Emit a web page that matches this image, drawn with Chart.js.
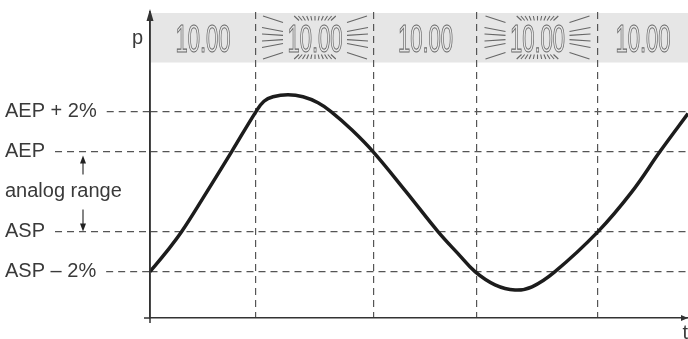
<html>
<head>
    <title>Display flashing outside the analog range</title>
    <script src="https://cdn.jsdelivr.net/npm/chart.js"></script>
    <style>
        body { margin: 0; background: #fff; }
        canvas { display: block; }
    </style>
</head>
<body>
<canvas id="p_chart" width="688" height="339"></canvas>

<script>
    // pressure curve over time (arbitrary units, 1 unit = 2% step)
    const curve_t = [0, 16, 31.7, 57, 81.7, 106, 114, 123, 138, 153, 168, 181, 202, 223, 256, 288, 308, 325, 345, 365, 382, 405, 448, 482, 510, 538];
    const curve_p = [0, 0.48, 1.0, 2.0, 3.0, 4.0, 4.26, 4.37, 4.42, 4.37, 4.22, 4.0, 3.54, 3.0, 2.0, 1.0, 0.45, 0, -0.33, -0.46, -0.38, 0, 1.0, 2.0, 3.0, 3.95];

    // y levels and their labels
    const level_values = [0, 1, 2, 3, 4];
    const level_labels = ["ASP – 2%", "ASP", "analog range", "AEP", "AEP + 2%"];

    // times where the display switches between steady and flashing
    const switch_t = [106, 224, 327, 448];
    const display_states = ["steady", "flash", "steady", "flash", "steady"];
    const display_text = "10.00";

    const t_min = 0, t_max = 538;
    const p_min = -1.16, p_max = 6.49;

    const label_font = "20px 'Liberation Sans', Arial, sans-serif";
    const line_gray = "#555";

    function draw_rays(ctx, cx, cy) {
        ctx.beginPath();
        // fan above and below
        for (let dx = -16; dx <= 16.1; dx += 3.2) {
            ctx.moveTo(cx + dx, cy - 17); ctx.lineTo(cx + dx * 1.3, cy - 21.5);
            ctx.moveTo(cx + dx, cy + 17); ctx.lineTo(cx + dx * 1.3, cy + 21.5);
        }
        // left and right sides
        [-10, -3.5, 3.5, 10].forEach(dy => {
            ctx.moveTo(cx - 32, cy + dy * 0.6); ctx.lineTo(cx - 53, cy + dy);
            ctx.moveTo(cx + 32, cy + dy * 0.6); ctx.lineTo(cx + 53, cy + dy);
        });
        // corners
        [[-1, -1], [1, -1], [-1, 1], [1, 1]].forEach(([sx, sy]) => {
            ctx.moveTo(cx + sx * 32, cy + sy * 15); ctx.lineTo(cx + sx * 52, cy + sy * 21.5);
        });
        ctx.stroke();
    }

    const overlay = {
        id: "overlay",
        beforeDraw(chart) {
            const ctx = chart.ctx;
            const area = chart.chartArea;
            ctx.save();
            ctx.fillStyle = "#e6e6e6";
            ctx.fillRect(area.left, 13, area.right - area.left, 49.5);
            ctx.restore();
        },
        afterDraw(chart) {
            const ctx = chart.ctx;
            const area = chart.chartArea;
            const xs = chart.scales.x;
            const ys = chart.scales.y;
            ctx.save();

            // dashed lines from the labels up to the axis
            ctx.font = label_font;
            ctx.strokeStyle = line_gray;
            ctx.lineWidth = 1.2;
            ctx.setLineDash([7, 5]);
            level_values.forEach((v, i) => {
                if (v === 2) return;
                const y = ys.getPixelForValue(v);
                const x0 = ys.left + ctx.measureText(level_labels[i]).width + 10;
                ctx.beginPath();
                ctx.moveTo(x0, y);
                ctx.lineTo(area.left, y);
                ctx.stroke();
            });
            ctx.setLineDash([]);

            // arrows for the analog range
            const ax = 83;
            const y_top = ys.getPixelForValue(3) + 4;
            const y_bot = ys.getPixelForValue(1);
            ctx.strokeStyle = "#222";
            ctx.fillStyle = "#222";
            ctx.lineWidth = 1.1;
            ctx.beginPath();
            ctx.moveTo(ax, y_top + 19); ctx.lineTo(ax, y_top + 6);
            ctx.moveTo(ax, y_bot - 22); ctx.lineTo(ax, y_bot - 6);
            ctx.stroke();
            ctx.beginPath();
            ctx.moveTo(ax, y_top); ctx.lineTo(ax - 3, y_top + 8); ctx.lineTo(ax + 3, y_top + 8); ctx.closePath();
            ctx.moveTo(ax, y_bot); ctx.lineTo(ax - 3, y_bot - 8); ctx.lineTo(ax + 3, y_bot - 8); ctx.closePath();
            ctx.fill();

            // axis arrow heads and small overhangs
            ctx.strokeStyle = "#333";
            ctx.fillStyle = "#333";
            ctx.lineWidth = 1.5;
            ctx.beginPath();
            ctx.moveTo(area.left, area.top); ctx.lineTo(area.left, area.bottom + 5);
            ctx.moveTo(area.left - 6, area.bottom); ctx.lineTo(area.left, area.bottom);
            ctx.stroke();
            ctx.beginPath();
            ctx.moveTo(area.left, area.top - 3); ctx.lineTo(area.left - 3.5, area.top + 9); ctx.lineTo(area.left + 3.5, area.top + 9); ctx.closePath();
            ctx.moveTo(area.right, area.bottom); ctx.lineTo(area.right - 7, area.bottom - 3); ctx.lineTo(area.right - 7, area.bottom + 3); ctx.closePath();
            ctx.fill();

            // axis names
            ctx.fillStyle = "#3a3a3a";
            ctx.font = label_font;
            ctx.textAlign = "right";
            ctx.textBaseline = "alphabetic";
            ctx.fillText("p", area.left - 7, 44);
            ctx.fillText("t", area.right, 339);

            // displays
            ctx.strokeStyle = "#666";
            display_states.forEach((state, i) => {
                const x0 = i === 0 ? area.left : xs.getPixelForValue(switch_t[i - 1]);
                const x1 = i === display_states.length - 1 ? area.right : xs.getPixelForValue(switch_t[i]);
                const cx = (x0 + x1) / 2;
                ctx.save();
                ctx.translate(cx, 52);
                ctx.scale(0.565, 1);
                ctx.font = "39px 'Liberation Sans', Arial, sans-serif";
                ctx.textAlign = "center";
                ctx.lineWidth = 1.1;
                ctx.strokeText(display_text, 0, 0);
                ctx.restore();
                if (state === "flash") {
                    ctx.lineWidth = 1.1;
                    draw_rays(ctx, cx, 37.5);
                }
            });
            ctx.restore();
        }
    };

    const ctx = document.getElementById("p_chart").getContext("2d");
    const p_chart = new Chart(ctx, {
        type: "line",
        data: {
            datasets: [{
                data: curve_t.map((t, i) => ({ x: t, y: curve_p[i] })),
                borderColor: "#1c1c1c",
                borderWidth: 3.5,
                pointRadius: 0,
                tension: 0.4,
                fill: false
            }]
        },
        options: {
            responsive: false,
            animation: false,
            layout: { padding: { left: 5, top: 12, right: 0, bottom: 0 } },
            plugins: { legend: { display: false }, tooltip: { enabled: false } },
            scales: {
                x: {
                    type: "linear",
                    min: t_min,
                    max: t_max,
                    afterBuildTicks: s => { s.ticks = switch_t.map(v => ({ value: v })); },
                    afterFit: s => { s.height = 21; },
                    ticks: { display: false },
                    grid: { color: line_gray, lineWidth: 1.2, drawTicks: false },
                    border: { display: true, color: "#333", width: 1.5, dash: [7, 5] }
                },
                y: {
                    type: "linear",
                    min: p_min,
                    max: p_max,
                    afterBuildTicks: s => { s.ticks = level_values.map(v => ({ value: v })); },
                    afterFit: s => { s.width = 145; },
                    ticks: {
                        autoSkip: false,
                        crossAlign: "far",
                        padding: 0,
                        color: "#3a3a3a",
                        font: { family: "'Liberation Sans', Arial, sans-serif", size: 20 },
                        callback: (v, i) => level_labels[i]
                    },
                    grid: {
                        color: c => (c.tick && c.tick.value === 2) ? "rgba(0,0,0,0)" : line_gray,
                        lineWidth: 1.2,
                        drawTicks: false
                    },
                    border: { display: true, color: "#333", width: 1.5, dash: [7, 5] }
                }
            }
        },
        plugins: [overlay]
    });
</script>
</body>
</html>
